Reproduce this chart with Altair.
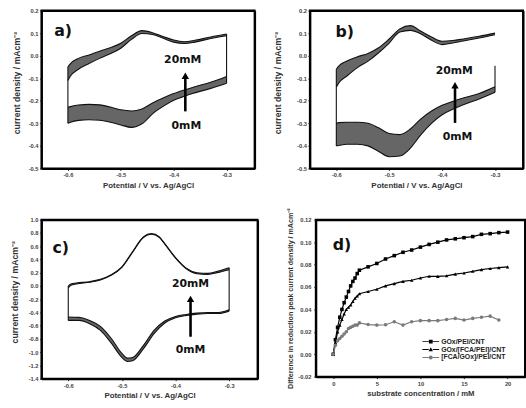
import altair as alt
import pandas as pd

# ---------------- cyclic voltammograms ----------------
cv_x = [-0.6, -0.595, -0.58, -0.56, -0.54, -0.52, -0.5, -0.48, -0.46, -0.44, -0.42, -0.4, -0.38, -0.36, -0.33, -0.3]

# panel a  (GOx/PEI/CNT)
a_up_top = [-0.05, -0.035, -0.012, 0.003, 0.02, 0.035, 0.055, 0.088, 0.111, 0.102, 0.085, 0.069, 0.062, 0.068, 0.083, 0.096]
a_up_bot = [-0.11, -0.09, -0.06, -0.035, -0.012, 0.008, 0.033, 0.072, 0.098, 0.094, 0.077, 0.060, 0.054, 0.060, 0.076, 0.088]
a_lo_top = [-0.229, -0.226, -0.219, -0.216, -0.218, -0.228, -0.240, -0.245, -0.236, -0.21, -0.188, -0.168, -0.152, -0.138, -0.118, -0.092]
a_lo_bot = [-0.30, -0.295, -0.287, -0.284, -0.286, -0.295, -0.307, -0.318, -0.302, -0.258, -0.225, -0.198, -0.18, -0.165, -0.145, -0.122]

# panel b  (GOx/[FCA/PEI]/CNT)
b_up_top = [-0.06, -0.045, -0.024, -0.005, 0.01, 0.035, 0.074, 0.118, 0.133, 0.108, 0.083, 0.064, 0.067, 0.074, 0.086, 0.1]
b_up_bot = [-0.14, -0.12, -0.09, -0.053, -0.024, 0.013, 0.056, 0.105, 0.112, 0.096, 0.068, 0.049, 0.056, 0.065, 0.078, 0.093]
b_lo_top = [-0.30, -0.297, -0.295, -0.295, -0.30, -0.32, -0.345, -0.35, -0.325, -0.28, -0.245, -0.22, -0.203, -0.188, -0.168, -0.138]
b_lo_bot = [-0.40, -0.398, -0.393, -0.393, -0.40, -0.425, -0.448, -0.445, -0.41, -0.35, -0.30, -0.262, -0.238, -0.218, -0.192, -0.162]
b_spike_top = -0.045

# panel c  ([FCA/GOx]/PEI/CNT)
c_up_x = [-0.6, -0.595, -0.585, -0.56, -0.54, -0.52, -0.5, -0.48, -0.46, -0.445, -0.43, -0.42, -0.4, -0.38, -0.36, -0.34, -0.32, -0.3]
c_up_top = [0.0, 0.03, 0.045, 0.065, 0.10, 0.17, 0.29, 0.52, 0.74, 0.79, 0.74, 0.64, 0.43, 0.27, 0.2, 0.19, 0.225, 0.275]
c_up_bot = [-0.03, 0.01, 0.03, 0.055, 0.09, 0.16, 0.28, 0.51, 0.73, 0.78, 0.73, 0.63, 0.42, 0.26, 0.185, 0.175, 0.205, 0.245]
c_lo_x = [-0.6, -0.58, -0.56, -0.54, -0.52, -0.5, -0.49, -0.48, -0.46, -0.44, -0.42, -0.4, -0.38, -0.36, -0.34, -0.32, -0.3]
c_lo_top = [-0.47, -0.475, -0.52, -0.61, -0.79, -1.02, -1.09, -1.08, -0.90, -0.67, -0.53, -0.46, -0.43, -0.41, -0.40, -0.40, -0.36]
c_lo_bot = [-0.52, -0.52, -0.57, -0.67, -0.86, -1.08, -1.14, -1.13, -0.95, -0.72, -0.56, -0.48, -0.445, -0.425, -0.415, -0.415, -0.38]

cv_ticks = [-0.6, -0.5, -0.4, -0.3]
ab_yticks = [-0.5, -0.4, -0.3, -0.2, -0.1, 0.0, 0.1, 0.2]
c_yticks = [-1.4, -1.2, -1.0, -0.8, -0.6, -0.4, -0.2, 0.0, 0.2, 0.4, 0.6, 0.8, 1.0]

# annotations (data coordinates)
panel_tags = ["a)", "b)", "c)", "d)"]
tag_x = [-0.609, -0.584, -0.614, 1.0]
tag_y = [0.107, 0.105, 0.575, 0.097]
hi_label_x = [-0.383, -0.377, -0.372]
hi_label_y = [-0.02, -0.068, 0.022]
lo_label_x = [-0.376, -0.371, -0.372]
lo_label_y = [-0.313, -0.361, -0.966]
arrow_x = [-0.378, -0.3756, -0.372]
arrow_base = [-0.247, -0.298, -0.767]
arrow_head = [-0.089, -0.131, -0.196]

# ---------------- panel d ----------------
conc_fine = [0, 0.25, 0.5, 0.75, 1.0, 1.25, 1.5, 1.75, 2.0, 2.25, 2.5, 2.75, 3]
conc_int = [4, 5, 6, 7, 8, 9, 10, 11, 12, 13, 14, 15, 16, 17, 18, 19, 20]
sq_y = [0.0, 0.013, 0.024, 0.033, 0.040, 0.046, 0.051, 0.056, 0.061, 0.065, 0.068, 0.072, 0.075,
        0.078, 0.081, 0.085, 0.088, 0.091, 0.093, 0.0956, 0.098, 0.100, 0.102, 0.103, 0.104, 0.105, 0.107, 0.1076, 0.1085, 0.109]
tri_y = [0.0, 0.010, 0.020, 0.026, 0.031, 0.036, 0.040, 0.042, 0.044, 0.047, 0.050, 0.052, 0.054,
         0.056, 0.058, 0.061, 0.063, 0.065, 0.066, 0.068, 0.0696, 0.0695, 0.070, 0.0715, 0.0725, 0.074, 0.0755, 0.0765, 0.0773, 0.078]
cir_y = [0.0, 0.008, 0.012, 0.014, 0.016, 0.018, 0.020, 0.023, 0.024, 0.025, 0.026, 0.026, 0.028,
         0.0265, 0.026, 0.0263, 0.029, 0.026, 0.029, 0.030, 0.030, 0.030, 0.031, 0.032, 0.0305, 0.032, 0.033, 0.034, 0.0305]
series_names = ["GOx/PEI/CNT", "GOx/[FCA/PEI]/CNT", "[FCA/GOx]/PEI/CNT"]
series_colors = ["#000000", "#000000", "#7a7a7a"]
d_xticks = [0, 5, 10, 15, 20]
d_yticks = [-0.02, 0.0, 0.02, 0.04, 0.06, 0.08, 0.10, 0.12]

# ---------------- styling ----------------
AX_FONT = "Liberation Sans"
ANN_FONT = "DejaVu Sans"
MINUS = "\u2212"
YTITLE = "current density / mAcm\u207b\u00b2"
FRAME = alt.ViewBackground(stroke="#000000", strokeWidth=2, strokeOpacity=1, fill="white")
EDGE_AXIS = dict(labels=False, ticks=False, title=None, domain=True, domainColor="#000000", domainWidth=2)


def fmt_expr(spec):
    return "replace(format(datum.value, '%s'), '%s', '-')" % (spec, MINUS)


def framed(inner, row_df, xscale, yscale):
    """Draw top and right edges of the box as axis domain lines on the same scales."""
    edge = alt.Chart(row_df).mark_point(opacity=0).encode(
        x=alt.X("x:Q", scale=xscale, axis=alt.Axis(orient="top", **EDGE_AXIS)),
        y=alt.Y("y:Q", scale=yscale, axis=alt.Axis(orient="right", **EDGE_AXIS)))
    return alt.layer(inner, edge).resolve_axis(x="independent", y="independent")


def cv_panel(i, up_x, up_top, up_bot, lo_x, lo_top, lo_bot, verts, ydom, yticks,
             w, h, ytp, ytitle_y=None):
    band = pd.DataFrame(
        [{"x": x, "y": t, "y2": b, "br": "up"} for x, t, b in zip(up_x, up_top, up_bot)]
        + [{"x": x, "y": t, "y2": b, "br": "lo"} for x, t, b in zip(lo_x, lo_top, lo_bot)])
    lines = pd.DataFrame(
        [{"x": x, "y": v, "c": "ut"} for x, v in zip(up_x, up_top)]
        + [{"x": x, "y": v, "c": "ub"} for x, v in zip(up_x, up_bot)]
        + [{"x": x, "y": v, "c": "lt"} for x, v in zip(lo_x, lo_top)]
        + [{"x": x, "y": v, "c": "lb"} for x, v in zip(lo_x, lo_bot)])
    vdf = pd.DataFrame([{"x": x, "y": y1, "y2": y2} for x, y1, y2 in verts])

    yaxis_kw = dict(values=yticks, labelExpr=fmt_expr(".1f"), title=YTITLE,
                    titlePadding=ytp, titleLimit=400, labelOverlap=False, labelBound=False,
                    titleFontSize=8.8)
    if ytitle_y is not None:
        yaxis_kw["titleY"] = ytitle_y
    xscale = alt.Scale(domain=[-0.65, -0.247], nice=False, zero=False)
    yscale = alt.Scale(domain=ydom, nice=False, zero=False)
    xenc = alt.X("x:Q", scale=xscale,
                 axis=alt.Axis(values=cv_ticks, labelExpr=fmt_expr(".1f"), labelOverlap=False,
                               title="Potential / V vs. Ag/AgCl", titlePadding=4))
    yenc = alt.Y("y:Q", scale=yscale, axis=alt.Axis(**yaxis_kw))

    area = alt.Chart(band).mark_area(color="#666666", interpolate="monotone", opacity=1).encode(
        x=xenc, y=yenc, y2="y2:Q", detail="br:N")
    curv = alt.Chart(lines).mark_line(color="#111111", strokeWidth=1.1, interpolate="monotone").encode(
        x=xenc, y=yenc, detail="c:N")
    vert = alt.Chart(vdf).mark_rule(color="#111111", strokeWidth=1.1).encode(x=xenc, y=yenc, y2="y2:Q")

    arr = pd.DataFrame({"x": [arrow_x[i]], "y": [arrow_base[i]], "y2": [arrow_head[i]]})
    shaft = alt.Chart(arr).mark_rule(color="black", strokeWidth=2.6).encode(x=xenc, y=yenc, y2="y2:Q")
    hd = pd.DataFrame({"x": [arrow_x[i]], "y": [arrow_head[i]]})
    head = alt.Chart(hd).mark_point(shape="triangle-up", filled=True, color="black", size=55,
                                    opacity=1).encode(x=xenc, y=yenc)

    lab = pd.DataFrame({"x": [hi_label_x[i], lo_label_x[i]], "y": [hi_label_y[i], lo_label_y[i]],
                        "t": ["20mM", "0mM"]})
    conc_txt = alt.Chart(lab).mark_text(font=ANN_FONT, fontWeight="bold", fontSize=11,
                                        color="#111111").encode(x=xenc, y=yenc, text="t:N")
    tag = pd.DataFrame({"x": [tag_x[i]], "y": [tag_y[i]], "t": [panel_tags[i]]})
    tag_txt = alt.Chart(tag).mark_text(font=ANN_FONT, fontWeight="bold", fontSize=16,
                                       color="#111111").encode(x=xenc, y=yenc, text="t:N")
    inner = alt.layer(area, curv, vert, shaft, head, conc_txt, tag_txt)
    return framed(inner, tag, xscale, yscale).properties(width=w, height=h, view=FRAME)


pa = cv_panel(0, cv_x, a_up_top, a_up_bot, cv_x, a_lo_top, a_lo_bot,
              [(cv_x[0], a_lo_bot[0], a_up_top[0]), (cv_x[-1], a_lo_bot[-1], a_up_top[-1])],
              [-0.5, 0.2], ab_yticks, 216, 160, 7, 73)
pb = cv_panel(1, cv_x, b_up_top, b_up_bot, cv_x, b_lo_top, b_lo_bot,
              [(cv_x[0], b_lo_bot[0], b_up_top[0]), (cv_x[-1], b_lo_bot[-1], b_spike_top)],
              [-0.5, 0.2], ab_yticks, 216, 160, 14, 73)
pc = cv_panel(2, c_up_x, c_up_top, c_up_bot, c_lo_x, c_lo_top, c_lo_bot,
              [(c_up_x[0], c_lo_bot[0], c_up_top[0]), (c_up_x[-1], c_lo_bot[-1], c_up_top[-1])],
              [-1.4, 1.0], c_yticks, 219, 161, 9, 73)

# ---------------- panel d ----------------
rows = []
for xs, ys, name in [(conc_fine + conc_int, sq_y, series_names[0]),
                     (conc_fine + conc_int, tri_y, series_names[1]),
                     (conc_fine + conc_int[:-1], cir_y, series_names[2])]:
    for x, y in zip(xs, ys):
        rows.append({"x": x, "y": y, "s": name})
ddf = pd.DataFrame(rows)

dxscale = alt.Scale(domain=[-2, 22], nice=False, zero=False)
dyscale = alt.Scale(domain=[-0.02, 0.12], nice=False, zero=False)
dx = alt.X("x:Q", scale=dxscale,
           axis=alt.Axis(values=d_xticks, format="d", title="substrate concentration / mM",
                         labelOverlap=False, titleFontSize=7.8, titlePadding=4))
dy = alt.Y("y:Q", scale=dyscale,
           axis=alt.Axis(values=d_yticks, labelExpr=fmt_expr(".2f"), labelPadding=3, labelOverlap=False,
                         title="Difference in reduction peak current density / mAcm\u207b\u00b2",
                         titleFontSize=7.2, titlePadding=3, titleLimit=400))

seg = "M-3.1,-0.17H-0.75V0.17H-3.1Z M0.75,-0.17H3.1V0.17H0.75Z "
sym_sq = seg + "M-0.7,-0.7H0.7V0.7H-0.7Z"
sym_tri = seg + "M0,-0.85L0.8,0.6H-0.8Z"
sym_cir = seg + "M0.72,0A0.72,0.72,0,1,0,-0.72,0A0.72,0.72,0,1,0,0.72,0Z"

dcol_plain = alt.Color("s:N", scale=alt.Scale(domain=series_names, range=series_colors), legend=None)
dlines = alt.Chart(ddf).mark_line(strokeWidth=1.2).encode(x=dx, y=dy, color=dcol_plain, detail="s:N")
dpts = alt.Chart(ddf).mark_point(filled=True, size=13, opacity=1).encode(
    x=dx, y=dy, color=dcol_plain,
    shape=alt.Shape("s:N", scale=alt.Scale(domain=series_names, range=["square", "triangle-up", "circle"]),
                    legend=None))

leg = alt.Legend(title=None, orient="none", legendX=113, legendY=120,
                 labelFont=AX_FONT, labelFontWeight="bold", labelFontSize=7,
                 labelColor="#222222", symbolSize=30, rowPadding=0, labelOffset=7,
                 symbolOpacity=1, symbolStrokeWidth=0)
dleg = alt.Chart(ddf).transform_filter("false").mark_point(filled=True, size=30, opacity=1).encode(
    x=dx, y=dy,
    color=alt.Color("s:N", scale=alt.Scale(domain=series_names, range=series_colors), legend=leg),
    shape=alt.Shape("s:N", scale=alt.Scale(domain=series_names, range=[sym_sq, sym_tri, sym_cir]),
                    legend=leg))
dtag_df = pd.DataFrame({"x": [tag_x[3]], "y": [tag_y[3]], "t": [panel_tags[3]]})
dtag = alt.Chart(dtag_df).mark_text(
    font=ANN_FONT, fontWeight="bold", fontSize=16, color="#111111").encode(x=dx, y=dy, text="t:N")
d_inner = alt.layer(dlines, dpts, dleg, dtag).resolve_scale(shape="independent", color="independent")
pd_chart = framed(d_inner, dtag_df, dxscale, dyscale).properties(width=212, height=159, view=FRAME)

row1 = alt.hconcat(pa, pb, spacing=17)
row2 = alt.hconcat(pc, pd_chart, spacing=27)
chart = alt.vconcat(row1, row2, spacing=16).properties(
    padding={"left": 9, "top": 4, "right": 0, "bottom": 0}
).configure(background="white").configure_view(stroke="#000000", strokeWidth=2).configure_axis(
    grid=False, domain=True, domainColor="#000000", domainWidth=2, ticks=True, tickSize=2,
    tickColor="#222222", tickWidth=1,
    labelFont=AX_FONT, labelFontWeight="bold", labelFontSize=5.8, labelColor="#444444", labelPadding=1.5,
    labelOverlap=False, titleFont=AX_FONT, titleFontWeight="bold", titleFontSize=8, titleColor="#333333"
)

chart.save("out.html", embed_options={"renderer": "svg", "actions": False})
